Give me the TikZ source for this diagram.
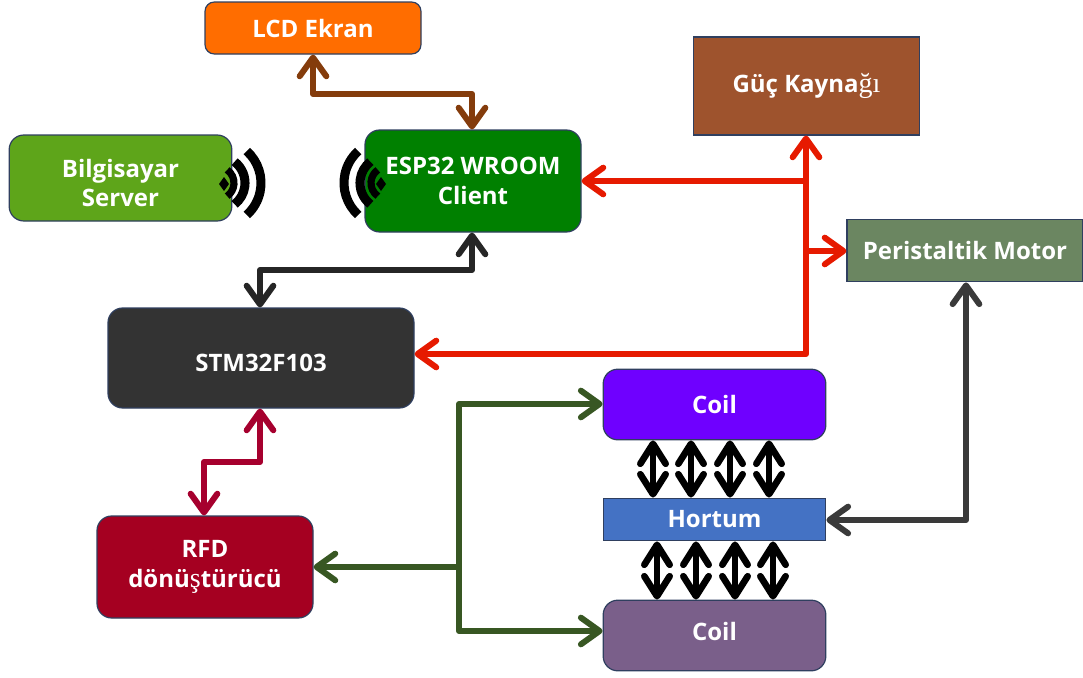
\documentclass[tikz,border=0pt]{standalone}
\usepackage{fontspec}
\setmainfont{Open Sans}[BoldFont={Open Sans Bold}]
\newfontfamily\thinserif{Liberation Serif}
\newcommand{\serifpart}[1]{{\thinserif\mdseries\fontsize{21}{22}\selectfont #1}}
\usetikzlibrary{arrows.meta,calc}
\definecolor{edgeblue}{HTML}{2F3F5F}
\definecolor{lcdc}{HTML}{FF6D00}
\definecolor{gucc}{HTML}{9E532D}
\definecolor{pcc}{HTML}{5EA51A}
\definecolor{espc}{HTML}{008000}
\definecolor{motc}{HTML}{6B8661}
\definecolor{stmc}{HTML}{333333}
\definecolor{coilac}{HTML}{6F00FF}
\definecolor{horc}{HTML}{4472C4}
\definecolor{rfdc}{HTML}{A50021}
\definecolor{coilbc}{HTML}{7A5F8A}
\definecolor{redl}{HTML}{E61A00}
\definecolor{brownl}{HTML}{843C0C}
\definecolor{blackl}{HTML}{262626}
\definecolor{crimsonl}{HTML}{A6002E}
\definecolor{greenl}{HTML}{385723}
\definecolor{greyl}{HTML}{3A3A3A}
\tikzset{
  x=0.75pt,y=-0.75pt,
  boxtext/.style={inner sep=0pt,align=center,text=white,
    font=\bfseries\fontsize{18}{22}\selectfont},
  blockbox/.style={boxtext,draw=edgeblue,line width=0.9pt},
  roundbox/.style={blockbox,rounded corners=11pt},
  barb/.tip={Straight Barb[length=14pt,width=20pt,line width=4.5pt,round]},
  conn/.style={line width=4.5pt,line join=round},
  oneway/.style={conn,-{barb}},
  twoway/.style={conn,{barb}-{barb}},
  coilbarb/.tip={Straight Barb[length=15pt,width=19pt,line width=5pt,round]},
  coilarrow/.style={line width=4pt,black,{coilbarb}-{coilbarb}},
  waveband/.style={line width=6.8pt,black},
}
\begin{document}
\begin{tikzpicture}
\useasboundingbox (0,0) rectangle (1083,678);
\node[roundbox,rounded corners=7pt,fill=lcdc,minimum width=162pt,minimum height=39pt] (lcd) at (313,28) {LCD Ekran};
\node[blockbox,fill=gucc,minimum width=170pt,minimum height=73.5pt] (guc) at (806.5,86) {Güç Kayna\serifpart{ğı}};
\node[roundbox,fill=pcc,minimum width=167pt,minimum height=64.5pt,
  label={[boxtext,yshift=-3.5pt]center:{Bilgisayar\\Server}}] (pc) at (120.5,178) {};
\node[roundbox,fill=espc,minimum width=162pt,minimum height=76.5pt] (esp) at (473,181) {ESP32 WROOM\\Client};
\node[blockbox,fill=motc,minimum width=177pt,minimum height=47pt] (mot) at (965,250.5) {Peristaltik Motor};
\node[roundbox,fill=stmc,minimum width=229.5pt,minimum height=75pt,
  label={[boxtext,yshift=-3.75pt]center:{STM32F103}}] (stm) at (261,358) {};
\node[roundbox,fill=coilac,minimum width=167pt,minimum height=53pt] (coila) at (714.5,404.5) {Coil};
\node[blockbox,fill=horc,minimum width=167pt,minimum height=32pt] (hor) at (714.5,519.5) {Hortum};
\node[roundbox,fill=rfdc,minimum width=162pt,minimum height=76.5pt] (rfd) at (205,567) {RFD\\dönü\serifpart{ş}türücü};
\node[roundbox,fill=coilbc,minimum width=167pt,minimum height=53pt,
  label={[boxtext,yshift=3pt]center:{Coil}}] (coilb) at (714.5,635.5) {};

% junctions
\coordinate (ba) at (313,94); \coordinate (bb) at (472,94);
\coordinate (ka) at (472,270); \coordinate (kb) at (260,270);
\coordinate (ca) at (260,462); \coordinate (cb) at (204,462);
\coordinate (rtop) at (806,181); \coordinate (rmot) at (806,251); \coordinate (rbot) at (806,354);
\coordinate (gtop) at (459,404); \coordinate (gmid) at (459,567); \coordinate (gbot) at (459,631);
\coordinate (gyc) at (966,520);

\draw[twoway,brownl] (ba |- lcd.south) -- (ba) -- (bb) -- (bb |- esp.north);
\draw[twoway,blackl] (ka |- esp.south) -- (ka) -- (kb) -- (kb |- stm.north);
\draw[twoway,crimsonl] (ca |- stm.south) -- (ca) -- (cb) -- (cb |- rfd.north);
\draw[twoway,redl] (rbot -| stm.east) -- (rbot) -- (rbot |- guc.south);
\draw[oneway,redl] (rtop) -- (rtop -| esp.east);
\draw[oneway,redl] (rmot) -- (rmot -| mot.west);
\draw[oneway,greenl] (gmid) -- (gmid -| rfd.east);
\draw[twoway,greenl] (gtop -| coila.west) -- (gtop) -- (gbot) -- (gbot -| coilb.west);
\draw[twoway,greyl] (gyc -| hor.east) -- (gyc) -- (gyc |- mot.south);

\foreach \xx in {653,691,730,769}{
  \coordinate (ua) at (\xx,0);
  \draw[coilarrow] (ua |- coila.south) -- (ua |- hor.north);
}
\foreach \xx in {657,696,735,773}{
  \coordinate (la) at (\xx,0);
  \draw[coilarrow] (la |- hor.south) -- (la |- coilb.north);
}

% wireless icon, computer side
\fill[black] (219,184) -- (224,177) -- (229,184) -- (224,191) -- cycle;
\draw[line width=5.4pt,black] ($(218,183)+(-55:16)$) arc[start angle=-55,end angle=55,x radius=12pt,y radius=-12pt];
\draw[waveband] ($(218,183)+(-52:27)$) arc[start angle=-52,end angle=52,x radius=20.25pt,y radius=-20.25pt];
\draw[waveband] ($(218,183)+(-48:43)$) arc[start angle=-48,end angle=48,x radius=32.25pt,y radius=-32.25pt];
% wireless icon, module side
\fill[black] (386,184) -- (381,177) -- (376,184) -- (381,191) -- cycle;
\draw[line width=5.4pt,black] ($(387,183)+(125:16)$) arc[start angle=125,end angle=235,x radius=12pt,y radius=-12pt];
\draw[waveband] ($(387,183)+(128:27)$) arc[start angle=128,end angle=232,x radius=20.25pt,y radius=-20.25pt];
\draw[waveband] ($(387,183)+(132:43)$) arc[start angle=132,end angle=228,x radius=32.25pt,y radius=-32.25pt];
\end{tikzpicture}
\end{document}
